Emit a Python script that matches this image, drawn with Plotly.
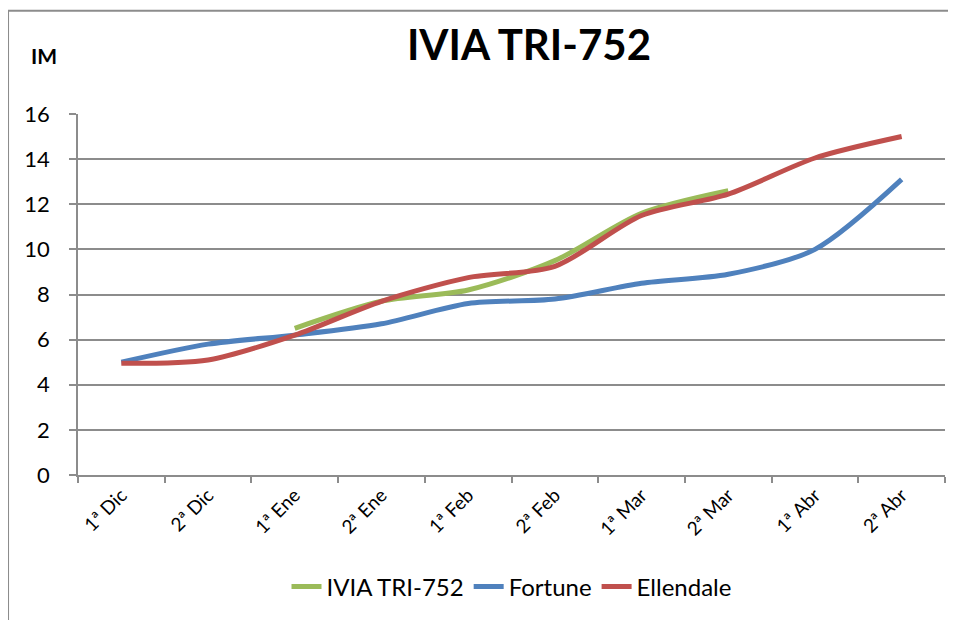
import plotly.graph_objects as go

categories = ["1ª Dic", "2ª Dic", "1ª Ene", "2ª Ene", "1ª Feb", "2ª Feb",
              "1ª Mar", "2ª Mar", "1ª Abr", "2ª Abr"]
ivia = [None, None, 6.5, 7.7, 8.2, 9.5, 11.6, 12.6, None, None]
fortune = [5.0, 5.8, 6.2, 6.7, 7.6, 7.8, 8.5, 8.9, 10.0, 13.1]
ellendale = [4.95, 5.1, 6.2, 7.7, 8.75, 9.25, 11.5, 12.45, 14.05, 15.0]
y_ticks = [0, 2, 4, 6, 8, 10, 12, 14, 16]

FONT = "Lato"
GRID = "#8c8c8c"

fig = go.Figure()
for name, vals, color in [("IVIA TRI-752", ivia, "#9BBB59"),
                          ("Fortune", fortune, "#4F81BD"),
                          ("Ellendale", ellendale, "#C0504D")]:
    fig.add_trace(go.Scatter(
        x=categories, y=vals, name=name, mode="lines",
        line=dict(color=color, width=5, shape="spline", smoothing=0.8),
        connectgaps=False,
    ))

# page body has an 8px margin, so the figure is drawn 8px right/down
W, H = 948, 612
fig.update_layout(
    width=W, height=H,
    margin=dict(l=70, r=11, t=106, b=142),
    paper_bgcolor="white", plot_bgcolor="white",
    font=dict(family=FONT, color="black"),
    title=dict(text="<b>IVIA TRI-752</b>", x=(529 - 8) / W, xref="container", xanchor="center",
               y=1 - 37 / H, yref="container", yanchor="middle",
               font=dict(size=42, family=FONT, color="black")),
    showlegend=True,
    legend=dict(orientation="h", x=0.5, xanchor="center", y=-0.31, yanchor="middle",
                font=dict(size=24, family=FONT), itemwidth=30, traceorder="normal"),
    xaxis=dict(type="category", range=[-0.5, 9.5], tickson="boundaries", automargin=False,
               showgrid=False, showline=True, linecolor=GRID, linewidth=1.5,
               ticks="outside", ticklen=6, tickcolor=GRID, tickwidth=1.5,
               tickangle=-45, tickfont=dict(size=19, family=FONT)),
    yaxis=dict(range=[0, 16], tickvals=y_ticks, showgrid=True, gridcolor=GRID, gridwidth=1.5,
               automargin=False,
               showline=True, linecolor=GRID, linewidth=1.5, zeroline=False,
               ticks="outside", ticklen=7, tickcolor=GRID, tickwidth=1.5,
               ticklabelstandoff=15,
               tickfont=dict(size=22, family=FONT)),
    annotations=[dict(text="<b>IM</b>", x=(44 - 78) / 867, y=1 + (114 - 55) / 364,
                      xref="paper", yref="paper", xanchor="center", yanchor="middle",
                      showarrow=False, font=dict(size=21, family=FONT))],
    shapes=[
        dict(type="line", xref="paper", yref="paper", x0=-0.0807, x1=1.3, y0=1.2857, y1=1.2857,
             line=dict(color=GRID, width=2)),
        dict(type="line", xref="paper", yref="paper", x0=-0.0807, x1=-0.0807, y0=1.2857, y1=-0.6,
             line=dict(color=GRID, width=2)),
    ],
)

fig.write_html("out.html")
